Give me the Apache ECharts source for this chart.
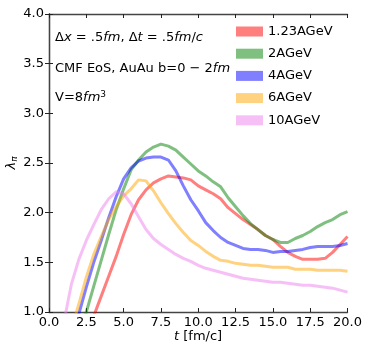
<!DOCTYPE html>
<html>
<head>
<meta charset="utf-8">
<script src="https://cdn.jsdelivr.net/npm/echarts@6/dist/echarts.min.js"></script>
<style>html,body{margin:0;padding:0;background:#fff;}#c{width:365px;height:344px;}</style>
</head>
<body>
<div id="c"></div>
<script>
// time grid (fm/c)
const T = [1.0,1.5,2.0,2.5,3.0,3.5,4.0,4.5,5.0,5.5,6.0,6.5,7.0,7.5,8.0,8.5,9.0,9.5,10.0,10.5,11.0,11.5,12.0,12.5,13.0,13.5,14.0,14.5,15.0,15.5,16.0,16.5,17.0,17.5,18.0,18.5,19.0,19.5,20.0];
const seriesNames = ['1.23AGeV','2AGeV','4AGeV','6AGeV','10AGeV'];
const lam123 = [null,null,null,0.76,0.96,1.16,1.36,1.56,1.78,1.98,2.13,2.23,2.30,2.34,2.37,2.36,2.35,2.33,2.27,2.23,2.19,2.14,2.05,1.99,1.93,1.88,1.83,1.77,1.73,1.66,1.60,1.56,1.53,1.53,1.53,1.54,1.60,1.68,1.76];
const lam2 = [null,null,0.74,1.00,1.26,1.52,1.78,2.03,2.24,2.43,2.53,2.61,2.66,2.69,2.67,2.63,2.56,2.49,2.42,2.37,2.31,2.26,2.15,2.06,1.97,1.89,1.83,1.77,1.73,1.70,1.70,1.74,1.77,1.81,1.86,1.90,1.93,1.98,2.01];
const lam4 = [null,0.76,0.98,1.25,1.50,1.72,1.95,2.16,2.34,2.45,2.52,2.55,2.56,2.56,2.53,2.42,2.27,2.13,2.02,1.90,1.82,1.75,1.70,1.67,1.64,1.63,1.63,1.62,1.60,1.61,1.61,1.62,1.63,1.65,1.66,1.66,1.66,1.67,1.69];
const lam6 = [null,0.83,1.08,1.35,1.58,1.76,1.93,2.06,2.17,2.24,2.33,2.32,2.22,2.10,1.99,1.89,1.80,1.72,1.67,1.61,1.56,1.52,1.51,1.49,1.48,1.47,1.47,1.46,1.45,1.45,1.45,1.43,1.43,1.43,1.42,1.42,1.42,1.42,1.41];
const lam10 = [0.90,1.28,1.53,1.72,1.88,2.03,2.14,2.21,2.19,2.09,1.96,1.83,1.74,1.68,1.63,1.58,1.54,1.51,1.47,1.44,1.42,1.40,1.38,1.36,1.34,1.33,1.32,1.31,1.30,1.30,1.29,1.28,1.27,1.27,1.26,1.25,1.24,1.22,1.20];
const xTicks = [0,2.5,5,7.5,10,12.5,15,17.5,20];
const yTicks = [1.0,1.5,2.0,2.5,3.0,3.5,4.0];

const colors = ['rgba(255,0,0,0.5)','rgba(0,128,0,0.5)','rgba(0,0,255,0.5)','rgba(255,165,0,0.5)','rgba(238,130,238,0.5)'];
const allData = [lam123, lam2, lam4, lam6, lam10];
const FONT = 'DejaVu Sans';
const FS = 13;

const chart = echarts.init(document.getElementById('c'), null, {renderer:'canvas'});
const axisLine = {show:true, lineStyle:{color:'#444', width:1.3}};
const tick = {show:true, inside:true, length:4, lineStyle:{color:'#222', width:1}};
const lbl = {fontFamily:FONT, fontSize:FS, color:'#000'};

function mkX(pos, show){
  return {type:'value', min:xTicks[0], max:xTicks[xTicks.length-1], interval:2.5, position:pos,
    axisLine:axisLine, axisTick:tick, splitLine:{show:false},
    axisLabel: show ? Object.assign({margin:4, formatter:v=>v.toFixed(1)}, lbl) : {show:false}};
}
function mkY(pos, show){
  return {type:'value', min:yTicks[0], max:yTicks[yTicks.length-1], interval:0.5, position:pos,
    axisLine:axisLine, axisTick:tick, splitLine:{show:false},
    axisLabel: show ? Object.assign({margin:5, formatter:v=>v.toFixed(1)}, lbl) : {show:false}};
}

const series = allData.map((arr,i)=>({
  name: seriesNames[i], type:'line', xAxisIndex:0, yAxisIndex:0,
  data: T.map((t,k)=>[t, arr[k]]), showSymbol:false, symbol:'none', clip:true,
  connectNulls:false,
  lineStyle:{color:colors[i], width:3}, itemStyle:{color:colors[i]}, z:2+i
}));

const R = {n:{fontFamily:FONT, fontSize:FS, fill:'#000'}, i:{fontFamily:FONT, fontSize:FS, fontStyle:'italic', fill:'#000'}};

const option = {
  animation:false,
  backgroundColor:'#fff',
  grid:{left:49, right:16, top:14, bottom:32, containLabel:false},
  xAxis:[mkX('bottom',true), mkX('top',false)],
  yAxis:[mkY('left',true), mkY('right',false)],
  legend:{
    orient:'vertical', left:236, top:25, padding:0, itemWidth:27, itemHeight:10, itemGap:9.2,
    icon:'rect', textStyle:{fontFamily:FONT, fontSize:FS, color:'#000', lineHeight:10},
    data: seriesNames.map((n,i)=>({name:n, itemStyle:{color:colors[i], borderWidth:0}})),
    selectedMode:false
  },
  series: series,
  graphic:[
    {type:'text', left:55, top:31, style:{
      text:'{n|Δ}{i|x}{n| = .5}{i|fm}{n|, Δ}{i|t}{n| = .5}{i|fm}{n|/}{i|c}', rich:R
    }},
    {type:'text', left:55, top:62, style:{
      text:'{n|CMF EoS, AuAu b=0 − 2}{i|fm}', rich:R
    }},
    {type:'text', left:55, top:90, style:{
      text:'{n|V=8}{i|fm}{s|3}',
      rich:{n:R.n, i:R.i, s:{fontFamily:FONT, fontSize:9, fill:'#000', verticalAlign:'top', padding:[0,0,6,0]}}
    }},
    {type:'text', left:174, top:330, style:{
      text:'{i|t}{n| [fm/c]}', rich:R
    }},
    {type:'text', x:12, y:163, rotation:Math.PI/2, style:{
      text:'{i|λ}{s|π}', align:'center', verticalAlign:'middle',
      rich:{i:{fontFamily:FONT, fontSize:FS, fontStyle:'italic', fill:'#000'}, s:{fontFamily:FONT, fontSize:9, fontStyle:'italic', fill:'#000', padding:[5,0,0,0]}}
    }}
  ]
};
chart.setOption(option);
</script>
</body>
</html>
